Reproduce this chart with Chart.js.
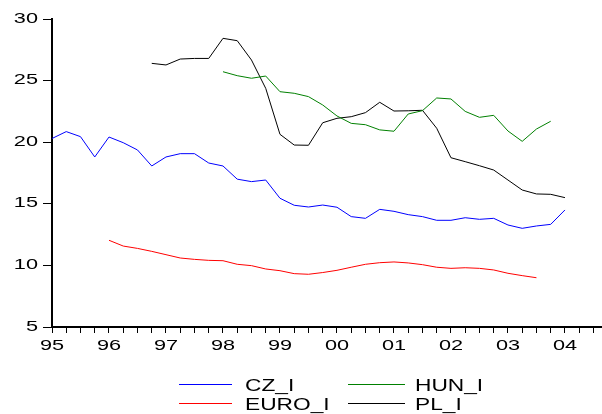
<!DOCTYPE html>
<html>
<head>
<meta charset="utf-8">
<script src="https://cdn.jsdelivr.net/npm/chart.js@4/dist/chart.umd.min.js"></script>
<style>
html,body{margin:0;padding:0;background:#fff;overflow:hidden;}
#wrap{position:absolute;left:0;top:0;width:602px;height:414px;}
</style>
</head>
<body>
<div id="wrap"><canvas id="c" width="602" height="414"></canvas></div>
<script>
// Quarterly periods 1995Q1 .. 2004Q1
const quarters = [
 '1995Q1','1995Q2','1995Q3','1995Q4',
 '1996Q1','1996Q2','1996Q3','1996Q4',
 '1997Q1','1997Q2','1997Q3','1997Q4',
 '1998Q1','1998Q2','1998Q3','1998Q4',
 '1999Q1','1999Q2','1999Q3','1999Q4',
 '2000Q1','2000Q2','2000Q3','2000Q4',
 '2001Q1','2001Q2','2001Q3','2001Q4',
 '2002Q1','2002Q2','2002Q3','2002Q4',
 '2003Q1','2003Q2','2003Q3','2003Q4',
 '2004Q1'
];
const czI = [
 20.3, 20.86, 20.45, 18.8,
 20.42, 19.96, 19.37, 18.07,
 18.8, 19.07, 19.07, 18.31,
 18.07, 17.0, 16.8, 16.93,
 15.45, 14.88, 14.74, 14.9,
 14.72, 13.96, 13.82, 14.55,
 14.39, 14.12, 13.96, 13.66,
 13.66, 13.87, 13.74, 13.82,
 13.28, 13.01, 13.2, 13.33,
 14.5
];
const euroI = [
 null, null, null, null,
 12.04, 11.57, 11.38, 11.14,
 10.87, 10.6, 10.49, 10.41,
 10.38, 10.09, 9.98, 9.71,
 9.57, 9.33, 9.28, 9.42,
 9.6, 9.85, 10.09, 10.22,
 10.28, 10.2, 10.06, 9.85,
 9.76, 9.81, 9.76, 9.63,
 9.36, 9.17, 9.0, null,
 null
];
const hunI = [
 null, null, null, null,
 null, null, null, null,
 null, null, null, null,
 25.72, 25.4, 25.19, 25.37,
 24.1, 23.97, 23.7, 23.02,
 22.13, 21.53, 21.42, 21.0,
 20.89, 22.29, 22.56, 23.59,
 23.51, 22.5, 22.02, 22.18,
 20.91, 20.07, 21.07, 21.7,
 null
];
const plI = [
 null, null, null, null,
 null, null, null, 26.4,
 26.27, 26.75, 26.8, 26.8,
 28.43, 28.24, 26.67, 24.37,
 20.64, 19.77, 19.75, 21.58,
 21.94, 22.07, 22.4, 23.24,
 22.53, 22.55, 22.59, 21.13,
 18.74, 18.42, 18.09, 17.74,
 16.93, 16.12, 15.8, 15.77,
 15.5
];
const yearLabels = ['95','96','97','98','99','00','01','02','03','04'];
const yTickValues = [5, 10, 15, 20, 25, 30];
const seriesNames = ['CZ_I', 'HUN_I', 'EURO_I', 'PL_I'];

function qToX(q) { return parseInt(q.slice(0,4), 10) + (parseInt(q.slice(5), 10) - 1) / 4; }
function pts(arr) { return quarters.map((q, i) => ({ x: qToX(q), y: arr[i] })); }

const colors = { 'CZ_I': '#0000ff', 'HUN_I': '#008000', 'EURO_I': '#ff0000', 'PL_I': '#000000' };
const seriesData = { 'CZ_I': czI, 'HUN_I': hunI, 'EURO_I': euroI, 'PL_I': plI };

const firstYear = qToX(quarters[0]);

function drawStretched(ctx, text, x, y, align, sx) {
  ctx.save();
  ctx.translate(x, y);
  ctx.scale(sx, 1);
  ctx.textAlign = align;
  ctx.fillText(text, 0, 0);
  ctx.restore();
}

const labelPlugin = {
  id: 'labels',
  afterDraw(chart) {
    const ctx = chart.ctx, xs = chart.scales.x, ys = chart.scales.y;
    ctx.save();
    ctx.fillStyle = '#000';
    ctx.textBaseline = 'alphabetic';
    ctx.font = '14px "Liberation Sans", Arial, sans-serif';
    xs.ticks.forEach(t => {
      const v = t.value;
      if (Math.abs(v - Math.round(v)) < 1e-6) {
        const idx = Math.round(v) - firstYear;
        const lab = yearLabels[idx];
        if (lab !== undefined) drawStretched(ctx, lab, xs.getPixelForValue(v), 349.5, 'center', 1.55);
      }
    });
    ys.ticks.forEach(t => {
      drawStretched(ctx, String(t.value), 38, ys.getPixelForValue(t.value) + 3.5, 'right', 1.55);
    });
    // legend: 2 columns x 2 rows
    ctx.font = '16px "Liberation Sans", Arial, sans-serif';
    const cols = [{ x0: 179, x1: 232, tx: 245 }, { x0: 348, x1: 405, tx: 415 }];
    const rows = [384, 403];
    chart.data.datasets.forEach((ds, i) => {
      const c = cols[i % 2], r = rows[Math.floor(i / 2)];
      ctx.strokeStyle = ds.borderColor;
      ctx.lineWidth = 1;
      ctx.beginPath();
      ctx.moveTo(c.x0, r + 0.5);
      ctx.lineTo(c.x1, r + 0.5);
      ctx.stroke();
      drawStretched(ctx, ds.label, c.tx, r + 7, 'left', 1.42);
    });
    ctx.restore();
  }
};

const datasets = seriesNames.map(n => ({
  label: n,
  data: pts(seriesData[n]),
  borderColor: colors[n],
  backgroundColor: colors[n],
  borderWidth: 1,
  pointRadius: 0,
  fill: false,
  tension: 0,
  spanGaps: false
}));

new Chart(document.getElementById('c'), {
  type: 'line',
  data: { datasets },
  plugins: [labelPlugin],
  options: {
    responsive: false,
    animation: false,
    devicePixelRatio: 1,
    layout: { padding: { top: 19, right: 0, bottom: 0, left: 0 } },
    plugins: { legend: { display: false }, tooltip: { enabled: false } },
    scales: {
      x: {
        type: 'linear',
        min: 1995,
        max: 2004.65,
        afterBuildTicks(scale) {
          const t = [];
          for (let i = 0; i <= 38; i++) t.push({ value: 1995 + i / 4 });
          scale.ticks = t;
        },
        afterFit(scale) { scale.height = 87; },
        ticks: { display: false },
        grid: { display: true, drawOnChartArea: false, drawTicks: true, tickLength: 6, color: '#000', lineWidth: 1 },
        border: { display: true, color: '#000', width: 2 }
      },
      y: {
        type: 'linear',
        min: 5,
        max: 30,
        afterBuildTicks(scale) { scale.ticks = yTickValues.map(v => ({ value: v })); },
        afterFit(scale) { scale.width = 52; },
        ticks: { display: false },
        grid: { display: true, drawOnChartArea: false, drawTicks: true, tickLength: 9, color: '#000', lineWidth: 1 },
        border: { display: true, color: '#000', width: 2 }
      }
    }
  }
});
</script>
</body>
</html>
